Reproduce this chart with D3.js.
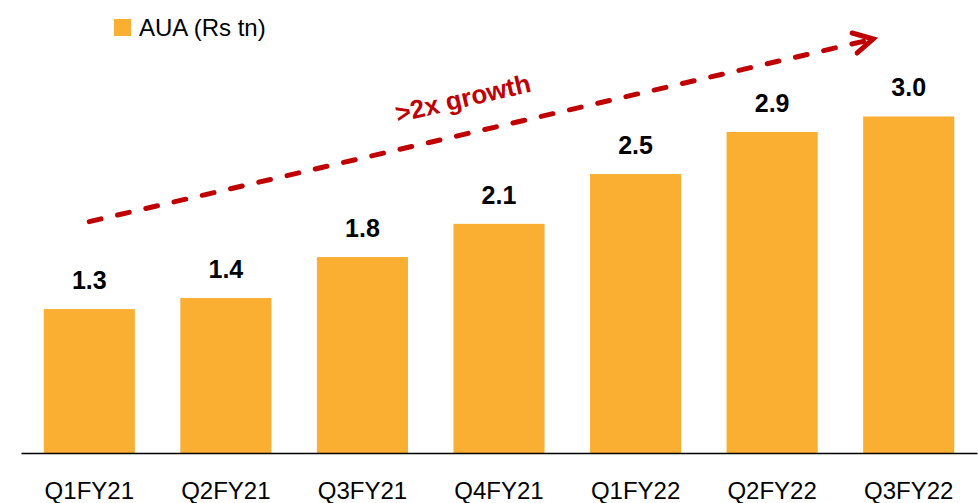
<!DOCTYPE html>
<html>
<head>
<meta charset="utf-8">
<script src="https://cdn.jsdelivr.net/npm/d3@7"></script>
<style>
  body { margin: 0; background: #fff; }
  svg { display: block; font-family: "Liberation Sans", Arial, sans-serif; }
</style>
</head>
<body>
<svg class="aua-chart" width="978" height="503"></svg>
<script>
"use strict";

// AUA (Rs tn) by quarter
var categories = ["Q1FY21", "Q2FY21", "Q3FY21", "Q4FY21", "Q1FY22", "Q2FY22", "Q3FY22"];
var values = [1.30, 1.40, 1.77, 2.07, 2.52, 2.90, 3.04];
var seriesName = "AUA (Rs tn)";
var growthNote = ">2x growth";

// growth arrow, in data space (category, value)
var arrowStart = ["Q1FY21", 2.09];
var arrowEnd = ["Q3FY22", 3.74];

function drawChart() {
    var svg = d3.select("svg.aua-chart");
    var barColor = "#FAAF33";
    var red = "#C00000";

    var x = d3.scaleBand().domain(categories).range([21, 977]).paddingInner(0.333).paddingOuter(0.1667);
    var y = d3.scaleLinear().domain([0, 4]).range([453, 10.2]);

    svg.selectAll(".bar").data(values).enter().append("rect").attr("class", "bar")
        .attr("x", function (d, i) { return x(categories[i]); })
        .attr("y", function (d) { return y(d); })
        .attr("width", x.bandwidth())
        .attr("height", function (d) { return y(0) - y(d); })
        .attr("fill", barColor);

    svg.selectAll(".val").data(values).enter().append("text").attr("class", "val")
        .attr("x", function (d, i) { return x(categories[i]) + x.bandwidth() / 2; })
        .attr("y", function (d) { return y(d) - 20; })
        .attr("text-anchor", "middle")
        .attr("font-size", "25px").attr("font-weight", "bold").attr("fill", "#000")
        .text(function (d) { return d.toFixed(1); });

    var axis = svg.append("g").attr("transform", "translate(0, " + y(0) + ")")
        .call(d3.axisBottom(x).tickSize(0).tickPadding(0));
    axis.select(".domain").attr("stroke", "#000").attr("stroke-width", 1.5);
    axis.selectAll(".tick text").attr("font-size", "24px").attr("fill", "#000")
        .attr("font-family", "'Liberation Sans', Arial, sans-serif")
        .attr("dy", null).attr("y", 46);

    // legend
    svg.append("rect").attr("x", 114).attr("y", 19).attr("width", 17).attr("height", 17).attr("fill", barColor);
    svg.append("text").attr("x", 139).attr("y", 36).attr("font-size", "24px").attr("fill", "#000").text(seriesName);

    // growth arrow
    var x0 = x(arrowStart[0]) + x.bandwidth() / 2, y0 = y(arrowStart[1]);
    var x1 = x(arrowEnd[0]) + x.bandwidth() * 0.11, y1 = y(arrowEnd[1]);
    svg.append("line").attr("x1", x0).attr("y1", y0).attr("x2", x1 - 6).attr("y2", y1 + 1.5)
        .attr("stroke", red).attr("stroke-width", 5).attr("stroke-linecap", "round")
        .attr("stroke-dasharray", "12,17");
    svg.append("path").attr("d", "M" + (x1 - 21) + "," + (y1 - 6) + "L" + x1 + "," + y1 + "L" + (x1 - 16) + "," + (y1 + 14))
        .attr("fill", "none").attr("stroke", red).attr("stroke-width", 5)
        .attr("stroke-linecap", "round").attr("stroke-linejoin", "miter");

    var angle = Math.atan2(y1 - y0, x1 - x0) * 180 / Math.PI;
    svg.append("text").attr("transform", "translate(465, 107) rotate(" + angle + ")")
        .attr("text-anchor", "middle").attr("font-size", "26px").attr("font-weight", "bold")
        .attr("fill", red).text(growthNote);
}

drawChart();
</script>
</body>
</html>
